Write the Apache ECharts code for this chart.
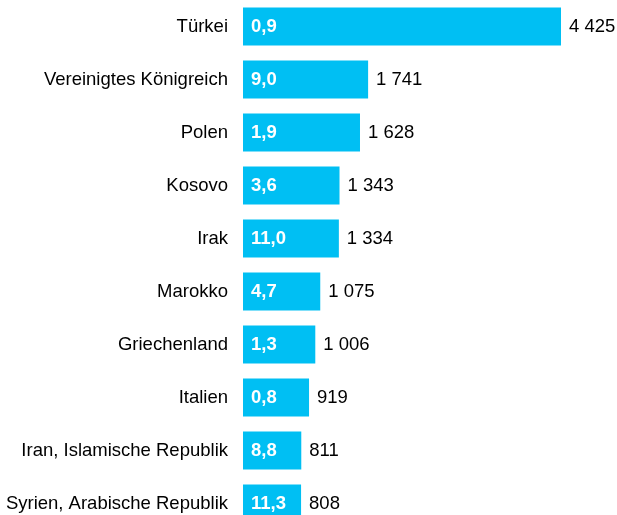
<!DOCTYPE html>
<html>
<head>
<meta charset="utf-8">
<script src="https://cdn.jsdelivr.net/npm/echarts@6/dist/echarts.min.js"></script>
<style>
  html, body { margin: 0; padding: 0; background: #fff; overflow: hidden; }
  #chart { width: 617px; height: 530px; }
</style>
</head>
<body>
<div id="chart"></div>
<script>
// Countries, top to bottom
const countries = [
  'Türkei', 'Vereinigtes Königreich', 'Polen', 'Kosovo', 'Irak',
  'Marokko', 'Griechenland', 'Italien', 'Iran, Islamische Republik',
  'Syrien, Arabische Republik'
];
// Counts shown to the right of each bar
const counts = [4425, 1741, 1628, 1343, 1334, 1075, 1006, 919, 811, 808];
// Rates shown inside each bar
const rates = [0.9, 9.0, 1.9, 3.6, 11.0, 4.7, 1.3, 0.8, 8.8, 11.3];

const fmtCount = v => String(v).replace(/\B(?=(\d{3})+(?!\d))/g, ' ');
const fmtRate = v => v.toFixed(1).replace('.', ',');

const chart = echarts.init(document.getElementById('chart'));
const font = 'Liberation Sans, Arial, sans-serif';
const fs = 18.5;

chart.setOption({
  animation: false,
  grid: { left: 243, top: 0, right: 56, bottom: 0, containLabel: false },
  xAxis: {
    type: 'value', min: 0, max: Math.max(...counts),
    show: false
  },
  yAxis: {
    type: 'category', data: countries, inverse: true,
    axisLine: { show: false }, axisTick: { show: false },
    axisLabel: { color: '#000', fontFamily: font, fontSize: fs, margin: 15 }
  },
  series: [
    {
      type: 'bar',
      data: counts,
      barCategoryGap: '28%',
      itemStyle: { color: '#00bff3' },
      label: {
        show: true, position: 'insideLeft', distance: 8,
        color: '#fff', fontWeight: 'bold', fontFamily: font, fontSize: fs,
        formatter: p => fmtRate(rates[p.dataIndex])
      }
    },
    {
      type: 'bar',
      data: counts,
      barGap: '-100%',
      barCategoryGap: '28%',
      itemStyle: { color: 'transparent' },
      label: {
        show: true, position: 'right', distance: 8,
        color: '#000', fontFamily: font, fontSize: fs,
        formatter: p => fmtCount(p.value)
      },
      silent: true
    }
  ]
});
</script>
</body>
</html>
